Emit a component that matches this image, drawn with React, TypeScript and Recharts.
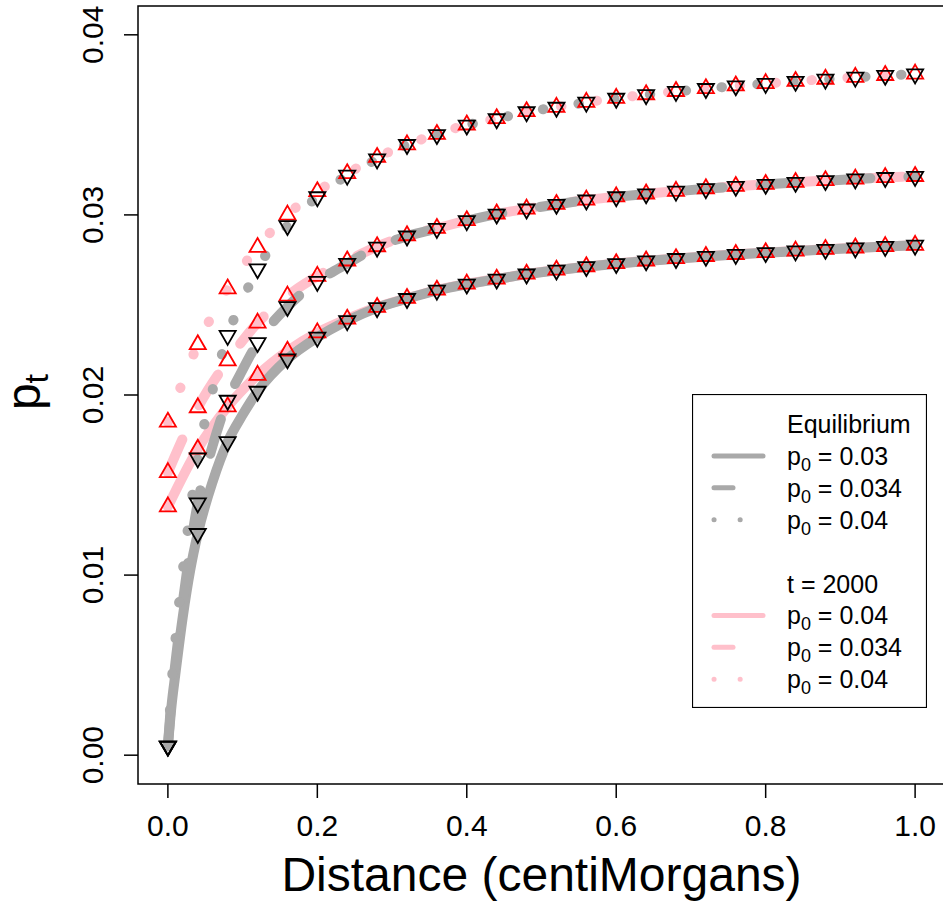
import { ComposedChart, Line, Scatter, XAxis, YAxis, ReferenceArea, Label } from 'recharts'

const FONT = '"Liberation Sans", Arial, Helvetica, sans-serif'
const GRAY = '#A9A9A9'
const PINK = '#FFC0CB'
const RED = '#FF0000'

// distance grid used for the triangle markers
const MARKER_X = [0, 0.04, 0.08, 0.12, 0.16, 0.2, 0.24, 0.28, 0.32, 0.36, 0.4, 0.44, 0.48, 0.52, 0.56, 0.6, 0.64, 0.68, 0.72, 0.76, 0.8, 0.84, 0.88, 0.92, 0.96, 1.0]

// equilibrium values (black down triangles / gray lines)
const EQ_HIGH = [0.0005, 0.0165, 0.0233, 0.027, 0.0294, 0.031, 0.0322, 0.0331, 0.0339, 0.03445, 0.03498, 0.03533, 0.03572, 0.03597, 0.03625, 0.03647, 0.03667, 0.03685, 0.03701, 0.03716, 0.03729, 0.03741, 0.03753, 0.03764, 0.03774, 0.03782]
const EQ_MID = [0.0005, 0.014, 0.0197, 0.0229, 0.0249, 0.0263, 0.0273, 0.0282, 0.02882, 0.02924, 0.02967, 0.03004, 0.03032, 0.03058, 0.03082, 0.031, 0.03116, 0.03131, 0.03145, 0.03158, 0.03169, 0.0318, 0.0319, 0.03199, 0.03207, 0.03213]
const EQ_LOW = [0.0005, 0.0123, 0.0174, 0.0202, 0.022, 0.0232, 0.02412, 0.02484, 0.02535, 0.02581, 0.02615, 0.02643, 0.02671, 0.02693, 0.02712, 0.02729, 0.02744, 0.02757, 0.02769, 0.0278, 0.0279, 0.02799, 0.02808, 0.02816, 0.02824, 0.02831]

// t = 2000 values (red up triangles / pink lines)
const T2000_HIGH = [0.0185, 0.0228, 0.0259, 0.0282, 0.03, 0.0313, 0.0323, 0.0332, 0.0339, 0.03448, 0.035, 0.03535, 0.03574, 0.03598, 0.03626, 0.03648, 0.03668, 0.03686, 0.03702, 0.03717, 0.0373, 0.03742, 0.03754, 0.03765, 0.03775, 0.03783]
const T2000_MID = [0.0157, 0.0193, 0.0219, 0.024, 0.0255, 0.0266, 0.02745, 0.02824, 0.02885, 0.02926, 0.02969, 0.03006, 0.03033, 0.03059, 0.03083, 0.03101, 0.03117, 0.03132, 0.03146, 0.03159, 0.0317, 0.03181, 0.03191, 0.032, 0.03208, 0.03214]
const T2000_LOW = [0.0138, 0.017, 0.01935, 0.0211, 0.02244, 0.02346, 0.02422, 0.02487, 0.02537, 0.02583, 0.02617, 0.02644, 0.02672, 0.02694, 0.02713, 0.0273, 0.02745, 0.02758, 0.0277, 0.02781, 0.02791, 0.028, 0.02809, 0.02817, 0.02825, 0.02832]

const EQ_EXTRA_X = [0.005, 0.01, 0.02, 0.03, 0.06, 0.1]
const EQ_HIGH_EXTRA = [0.004, 0.0064, 0.0103, 0.0136, 0.0203, 0.0253]
const EQ_MID_EXTRA = [0.0032, 0.0051, 0.0085, 0.0115, 0.0172, 0.0214]
const EQ_LOW_EXTRA = [0.0028, 0.0045, 0.0077, 0.0103, 0.0152, 0.0189]

const X_TICKS = [0, 0.2, 0.4, 0.6, 0.8, 1.0]
const X_TICK_LABELS = ['0.0', '0.2', '0.4', '0.6', '0.8', '1.0']
const Y_TICKS = [0, 0.01, 0.02, 0.03, 0.04]
const Y_TICK_LABELS = ['0.00', '0.01', '0.02', '0.03', '0.04']

const LEGEND_ROWS = [
  { title: 'Equilibrium' },
  { p0: '0.03', color: GRAY, style: 'solid' },
  { p0: '0.034', color: GRAY, style: 'dashed' },
  { p0: '0.04', color: GRAY, style: 'dotted' },
  {},
  { title: 't = 2000' },
  { p0: '0.04', color: PINK, style: 'solid' },
  { p0: '0.034', color: PINK, style: 'dashed' },
  { p0: '0.04', color: PINK, style: 'dotted' }
]

const DASH: any = { solid: undefined, dashed: '36 38', dotted: '0.5 35.5' }
const LEGEND_DASH: any = { solid: undefined, dashed: '19 40', dotted: '0.1 26' }

const toPoints = (xs: number[], ys: number[]) => xs.map((x, i) => ({ x, y: ys[i] }))
const withExtra = (ys: number[], extraX: number[], extraY: number[]) =>
  [...toPoints(MARKER_X, ys), ...toPoints(extraX, extraY)].sort((a, b) => a.x - b.x)

const UpTriangle = (props: any) => {
  const { cx, cy } = props
  const r = 9.3
  const h = r * 0.866
  return <polygon points={`${cx},${cy - r} ${cx + h},${cy + r / 2} ${cx - h},${cy + r / 2}`} fill="none" stroke={RED} strokeWidth={1.8} />
}

const DownTriangle = (props: any) => {
  const { cx, cy } = props
  const r = 9.3
  const h = r * 0.866
  return <polygon points={`${cx},${cy + r} ${cx + h},${cy - r / 2} ${cx - h},${cy - r / 2}`} fill="none" stroke="#000" strokeWidth={1.8} />
}

const XTick = ({ x, y, payload }: any) => (
  <text x={x} y={y + 36} textAnchor="middle" fontSize={30} fontFamily={FONT} fill="#000">
    {X_TICK_LABELS[X_TICKS.indexOf(payload.value)]}
  </text>
)

const YTick = ({ x, y, payload }: any) => (
  <text transform={`translate(${x - 19},${y}) rotate(-90)`} textAnchor="middle" fontSize={30} fontFamily={FONT} fill="#000">
    {Y_TICK_LABELS[Y_TICKS.indexOf(payload.value)]}
  </text>
)

const XTitle = ({ viewBox }: any) => (
  <text x={viewBox.x + viewBox.width / 2} y={viewBox.y + 107} textAnchor="middle" fontSize={48} fontFamily={FONT} fill="#000">
    Distance (centiMorgans)
  </text>
)

const YTitle = ({ viewBox }: any) => (
  <text transform={`translate(40,${viewBox.y + viewBox.height / 2 - 3}) rotate(-90)`} textAnchor="middle" fontFamily={FONT} fill="#000">
    <tspan fontSize={48}>p</tspan>
    <tspan fontSize={34} dy={8}>t</tspan>
  </text>
)

function LegendBox() {
  return (
    <svg width={235} height={314} style={{ position: 'absolute', left: 692, top: 394 }}>
      <rect x={0.5} y={0.5} width={234} height={313} fill="#fff" stroke="#000" strokeWidth={1.2} />
      {LEGEND_ROWS.map((row: any, i) => {
        const cy = 30 + i * 31.9
        if (row.title) {
          return (
            <text key={i} x={95} y={cy + 9} fontSize={25} fontFamily={FONT} fill="#000">{row.title}</text>
          )
        }
        if (!row.p0) return null
        return (
          <g key={i}>
            <line x1={22} x2={71} y1={cy} y2={cy} stroke={row.color} strokeWidth={5} strokeLinecap="round" strokeDasharray={LEGEND_DASH[row.style]} />
            <text x={95} y={cy + 9} fontSize={25} fontFamily={FONT} fill="#000">
              p<tspan fontSize={18} dy={6}>0</tspan><tspan dy={-6}> = {row.p0}</tspan>
            </text>
          </g>
        )
      })}
    </svg>
  )
}

const PINK_LINES = [
  { ys: T2000_LOW, style: 'solid' },
  { ys: T2000_MID, style: 'dashed' },
  { ys: T2000_HIGH, style: 'dotted' }
]

const GRAY_LINES = [
  { data: withExtra(EQ_LOW, EQ_EXTRA_X, EQ_LOW_EXTRA), style: 'solid' },
  { data: withExtra(EQ_MID, EQ_EXTRA_X, EQ_MID_EXTRA), style: 'dashed' },
  { data: withExtra(EQ_HIGH, EQ_EXTRA_X, EQ_HIGH_EXTRA), style: 'dotted' }
]

export default function App() {
  return (
    <div style={{ position: 'absolute', left: 0, top: 0, width: 943, height: 907, overflow: 'hidden', background: '#fff' }}>
      <ComposedChart width={960} height={907} margin={{ top: 6, right: 15, left: 0, bottom: 0 }}>
        <XAxis
          type="number"
          dataKey="x"
          domain={[-0.04, 1.04]}
          ticks={X_TICKS}
          allowDataOverflow
          axisLine={false}
          tickLine={{ stroke: '#000', strokeWidth: 1.5 }}
          tickSize={14}
          tick={<XTick />}
          height={123}
        >
          <Label content={<XTitle />} />
        </XAxis>
        <YAxis
          type="number"
          dataKey="y"
          domain={[-0.0016, 0.0416]}
          ticks={Y_TICKS}
          allowDataOverflow
          axisLine={false}
          tickLine={{ stroke: '#000', strokeWidth: 1.5 }}
          tickSize={14}
          tick={<YTick />}
          width={138}
        >
          <Label content={<YTitle />} />
        </YAxis>
        <ReferenceArea x1={-0.04} x2={1.04} y1={-0.0016} y2={0.0416} fill="none" stroke="#000" strokeWidth={1.5} ifOverflow="visible" />
        {PINK_LINES.map((l, i) => (
          <Line
            key={`pink-${i}`}
            data={toPoints(MARKER_X, l.ys)}
            dataKey="y"
            type="monotone"
            stroke={PINK}
            strokeWidth={10}
            strokeLinecap="round"
            strokeDasharray={DASH[l.style]}
            dot={false}
            activeDot={false}
            isAnimationActive={false}
          />
        ))}
        {GRAY_LINES.map((l, i) => (
          <Line
            key={`gray-${i}`}
            data={l.data}
            dataKey="y"
            type="monotone"
            stroke={GRAY}
            strokeWidth={10}
            strokeLinecap="round"
            strokeDasharray={DASH[l.style]}
            dot={false}
            activeDot={false}
            isAnimationActive={false}
          />
        ))}
        {[T2000_LOW, T2000_MID, T2000_HIGH].map((ys, i) => (
          <Scatter key={`red-${i}`} data={toPoints(MARKER_X, ys)} dataKey="y" shape={<UpTriangle />} isAnimationActive={false} />
        ))}
        {[EQ_LOW, EQ_MID, EQ_HIGH].map((ys, i) => (
          <Scatter key={`black-${i}`} data={toPoints(MARKER_X, ys)} dataKey="y" shape={<DownTriangle />} isAnimationActive={false} />
        ))}
      </ComposedChart>
      <LegendBox />
    </div>
  )
}
